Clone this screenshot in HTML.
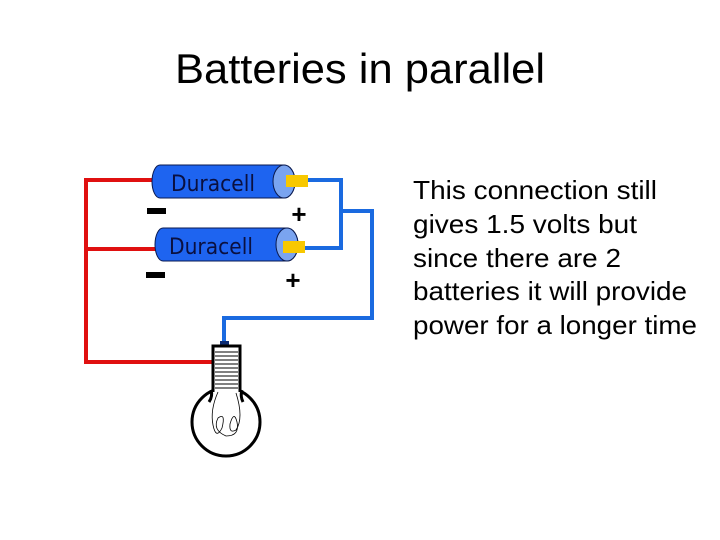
<!DOCTYPE html>
<html><head><style>
html,body{margin:0;padding:0;background:#fff;}
body{width:720px;height:540px;position:relative;overflow:hidden;font-family:"Liberation Sans",sans-serif;}
</style></head><body>
<svg width="720" height="540" xmlns="http://www.w3.org/2000/svg" style="position:absolute;left:0;top:0">
<text x="360" y="83" text-anchor="middle" font-family="Liberation Sans, sans-serif" font-size="42" fill="#000" textLength="370" lengthAdjust="spacingAndGlyphs">Batteries in parallel</text>
<polyline points="153,180 86,180 86,362 216,362" fill="none" stroke="#e01010" stroke-width="4"/>
<line x1="86" y1="249" x2="157" y2="249" stroke="#e01010" stroke-width="4"/>
<polyline points="305,180 341,180 341,248 305,248" fill="none" stroke="#1a6ae0" stroke-width="4"/>
<polyline points="341,211 372,211 372,318 224,318 224,345" fill="none" stroke="#1a6ae0" stroke-width="4"/>
<path d="M160,165 H284 A11,16.5 0 0 1 284,198 H160 A8,16.5 0 0 1 160,165 Z" fill="#1e64f0" stroke="#0a1a50" stroke-width="1"/>
<ellipse cx="284" cy="181.5" rx="11" ry="16.5" fill="#7aa4f0" stroke="#0a1a50" stroke-width="1"/>
<rect x="286" y="175" width="22" height="12" fill="#f8c800"/>
<text x="213" y="191" text-anchor="middle" font-family="DejaVu Sans, sans-serif" font-size="22" fill="#0a1040" textLength="84" lengthAdjust="spacingAndGlyphs">Duracell</text>
<path d="M163,228 H287 A11,16.5 0 0 1 287,261 H163 A8,16.5 0 0 1 163,228 Z" fill="#1e64f0" stroke="#0a1a50" stroke-width="1"/>
<ellipse cx="287" cy="244.5" rx="11" ry="16.5" fill="#7aa4f0" stroke="#0a1a50" stroke-width="1"/>
<rect x="283" y="241" width="22" height="12" fill="#f8c800"/>
<text x="211" y="254" text-anchor="middle" font-family="DejaVu Sans, sans-serif" font-size="22" fill="#0a1040" textLength="84" lengthAdjust="spacingAndGlyphs">Duracell</text>
<rect x="147" y="208" width="19" height="6" fill="#000"/>
<rect x="146" y="272" width="19" height="6" fill="#000"/>
<text x="299" y="223" text-anchor="middle" font-size="26" font-weight="bold" fill="#000" font-family="Liberation Sans, sans-serif">+</text>
<text x="293" y="289" text-anchor="middle" font-size="26" font-weight="bold" fill="#000" font-family="Liberation Sans, sans-serif">+</text>
<rect x="220" y="341" width="9" height="6" fill="#0a2a70"/>
<circle cx="226" cy="422" r="34" fill="#fff" stroke="#000" stroke-width="3"/>
<rect x="213" y="346" width="27" height="52" fill="#fff" stroke="#000" stroke-width="3"/>
<g stroke="#000" stroke-width="1">
<line x1="215" y1="352" x2="238" y2="352"/><line x1="215" y1="356" x2="238" y2="356"/>
<line x1="215" y1="360" x2="238" y2="360"/><line x1="215" y1="364" x2="238" y2="364"/>
<line x1="215" y1="368" x2="238" y2="368"/><line x1="215" y1="372" x2="238" y2="372"/>
<line x1="215" y1="376" x2="238" y2="376"/><line x1="215" y1="380" x2="238" y2="380"/>
<line x1="215" y1="384" x2="238" y2="384"/><line x1="215" y1="388" x2="238" y2="388"/>
</g>
<rect x="211" y="392" width="31" height="10" fill="#fff"/>
<path d="M211,390 Q213,396 209,402 M242,390 Q240,396 243,402" stroke="#000" stroke-width="3" fill="none"/>
<path d="M218,392 Q210,410 213,425 Q216,440 222,428 Q226,412 218,418 Q212,430 226,436 Q240,436 237,422 Q234,410 230,424 Q229,434 236,430 Q244,418 236,393" stroke="#000" stroke-width="0.8" fill="none"/>
<text font-family="Liberation Sans, sans-serif" font-size="26" fill="#000">
<tspan x="413" y="199" textLength="244" lengthAdjust="spacingAndGlyphs">This connection still</tspan>
<tspan x="413" y="233" textLength="224" lengthAdjust="spacingAndGlyphs">gives 1.5 volts but</tspan>
<tspan x="413" y="267" textLength="208" lengthAdjust="spacingAndGlyphs">since there are 2</tspan>
<tspan x="413" y="300" textLength="274" lengthAdjust="spacingAndGlyphs">batteries it will provide</tspan>
<tspan x="413" y="334" textLength="284" lengthAdjust="spacingAndGlyphs">power for a longer time</tspan>
</text>
</svg>
</body></html>
